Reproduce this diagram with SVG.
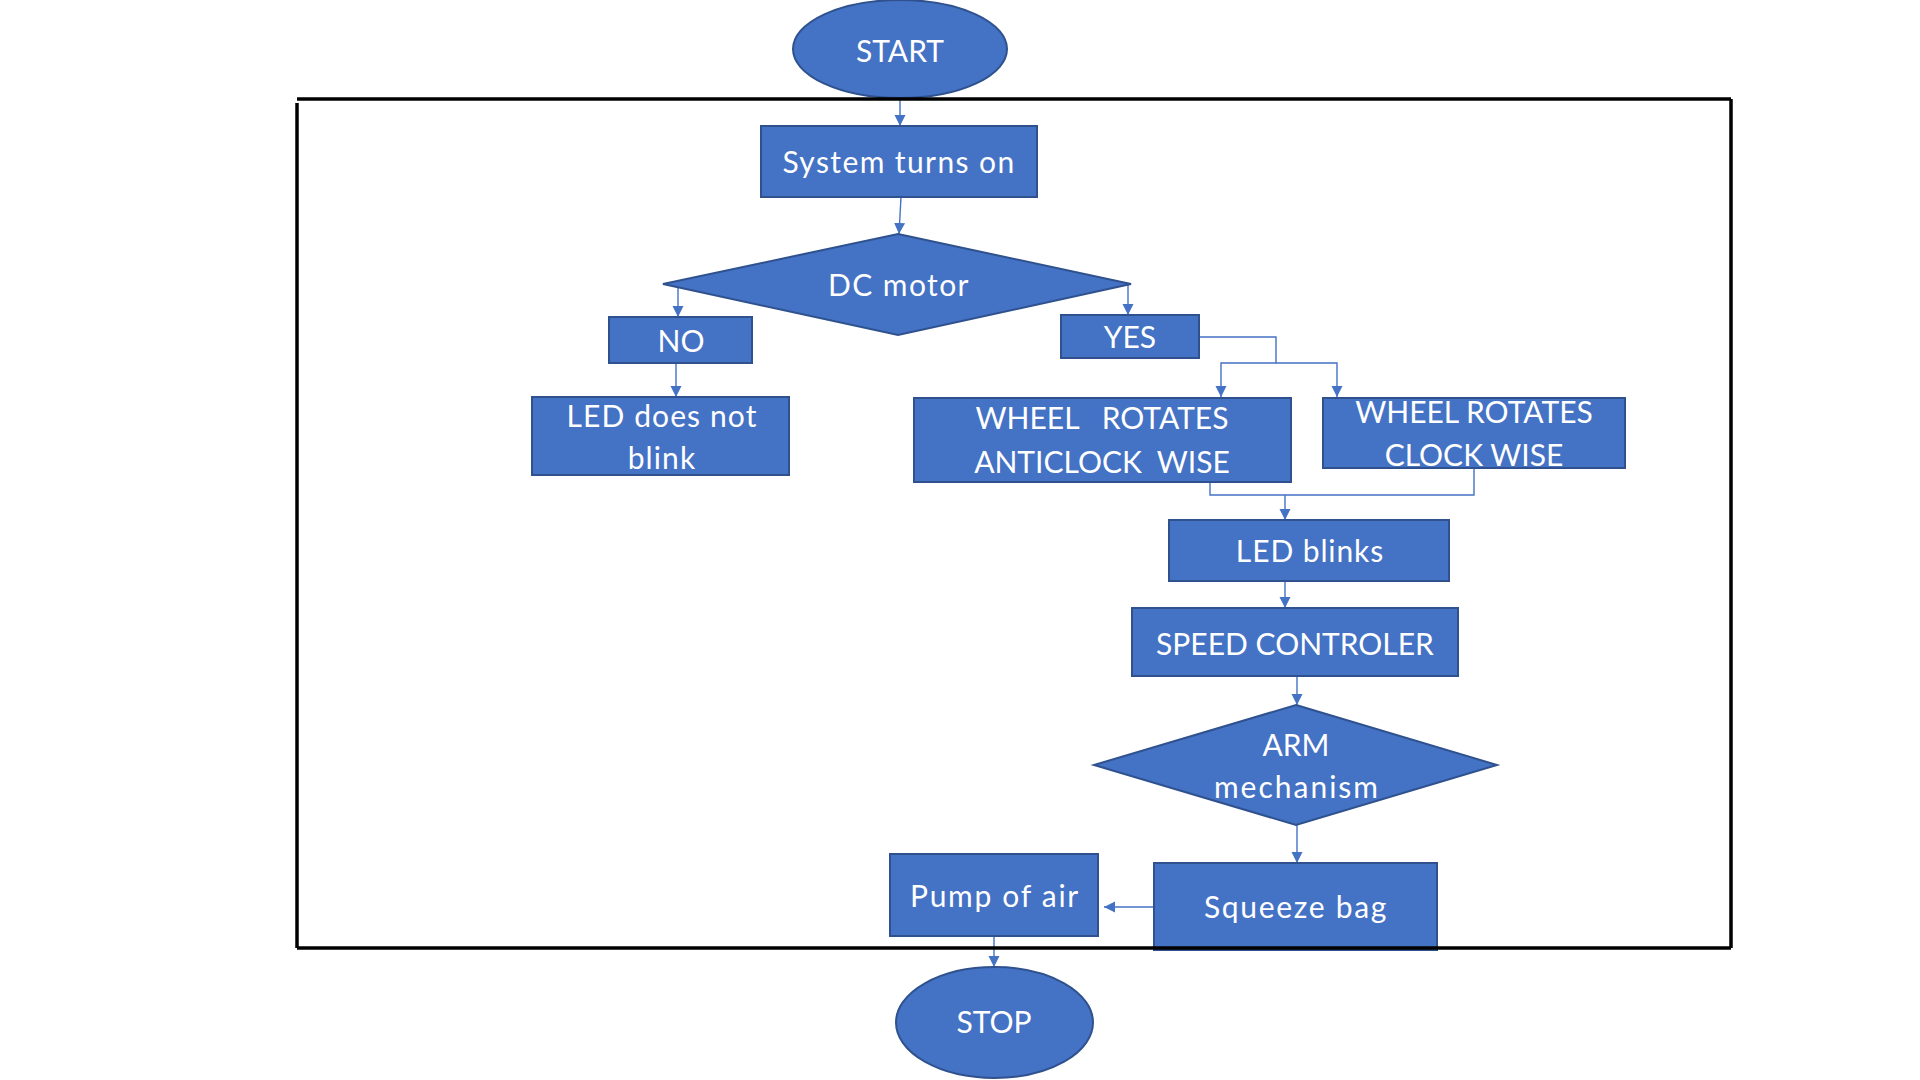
<svg xmlns="http://www.w3.org/2000/svg" width="1920" height="1080" viewBox="0 0 1920 1080">
<style>
.node{fill:#4472C4;stroke:#2F528F;stroke-width:2}
.lbl{fill:#FFFFFF;font-family:Lato,"Open Sans",sans-serif;font-size:30px;text-anchor:middle;white-space:pre}
.mix{letter-spacing:1.4px}
.conn{fill:none;stroke:#4472C4;stroke-width:1.4}
.frame{stroke:#000000;stroke-width:3.5;fill:none}
</style>
<defs>
<marker id="arr" markerUnits="userSpaceOnUse" markerWidth="12" markerHeight="12" viewBox="0 0 12 12" refX="11" refY="6" orient="auto">
<path d="M0,0.5 L11,6 L0,11.5 Z" fill="#4472C4"/>
</marker>
</defs>
<rect width="1920" height="1080" fill="#FFFFFF"/>
<g id="connectors">
<path class="conn" d="M900,98 V126" marker-end="url(#arr)"/>
<path class="conn" d="M901,197 L899,234" marker-end="url(#arr)"/>
<path class="conn" d="M678,284 V317" marker-end="url(#arr)"/>
<path class="conn" d="M676,363 V397" marker-end="url(#arr)"/>
<path class="conn" d="M1128,284 V315" marker-end="url(#arr)"/>
<path class="conn" d="M1199,337 H1276 V363 H1221 V397" marker-end="url(#arr)"/>
<path class="conn" d="M1276,363 H1337 V397" marker-end="url(#arr)"/>
<path class="conn" d="M1210,482 V495 H1474 V468"/>
<path class="conn" d="M1285,495 V520" marker-end="url(#arr)"/>
<path class="conn" d="M1285,581 V608" marker-end="url(#arr)"/>
<path class="conn" d="M1297,676 V705" marker-end="url(#arr)"/>
<path class="conn" d="M1297,825 V863" marker-end="url(#arr)"/>
<path class="conn" d="M1154,907 H1104" marker-end="url(#arr)"/>
<path class="conn" d="M994,936 V967" marker-end="url(#arr)"/>
</g>
<g id="start">
<ellipse class="node" cx="900" cy="49" rx="107" ry="49"/>
<text class="lbl" x="900" y="62">START</text>
</g>
<g id="system">
<rect class="node" x="761" y="126" width="276" height="71"/>
<text class="lbl mix" x="899" y="173">System turns on</text>
</g>
<g id="dcmotor">
<polygon class="node" points="898,234 1131,284 898,335 663,284"/>
<text class="lbl mix" x="899" y="296">DC motor</text>
</g>
<g id="no">
<rect class="node" x="609" y="317" width="143" height="46"/>
<text class="lbl" x="681" y="352">NO</text>
</g>
<g id="led-not">
<rect class="node" x="532" y="397" width="257" height="78"/>
<text class="lbl" x="662" y="427" style="letter-spacing:1.1px">LED does not</text>
<text class="lbl" x="662" y="469" style="letter-spacing:1.1px">blink</text>
</g>
<g id="yes">
<rect class="node" x="1061" y="315" width="138" height="43"/>
<text class="lbl" x="1130" y="348">YES</text>
</g>
<g id="anticlock">
<rect class="node" x="914" y="398" width="377" height="84"/>
<text class="lbl" x="1102" y="429">WHEEL   ROTATES</text>
<text class="lbl" x="1102" y="473">ANTICLOCK  WISE</text>
</g>
<g id="clockwise">
<rect class="node" x="1323" y="398" width="302" height="70"/>
<text class="lbl" x="1474" y="423">WHEEL ROTATES</text>
<text class="lbl" x="1474" y="466">CLOCK WISE</text>
</g>
<g id="led-blinks">
<rect class="node" x="1169" y="520" width="280" height="61"/>
<text class="lbl" x="1310" y="562" style="letter-spacing:0.9px">LED blinks</text>
</g>
<g id="speed">
<rect class="node" x="1132" y="608" width="326" height="68"/>
<text class="lbl" x="1295" y="655">SPEED CONTROLER</text>
</g>
<g id="arm">
<polygon class="node" points="1296,705 1497,765 1296,825 1094,765"/>
<text class="lbl" x="1296" y="756">ARM</text>
<text class="lbl" x="1297" y="798" style="letter-spacing:2px">mechanism</text>
</g>
<g id="squeeze">
<rect class="node" x="1154" y="863" width="283" height="87"/>
<text class="lbl" x="1296" y="918" style="letter-spacing:1.7px">Squeeze bag</text>
</g>
<g id="pump">
<rect class="node" x="890" y="854" width="208" height="82"/>
<text class="lbl" x="995" y="907" style="letter-spacing:1.7px">Pump of air</text>
</g>
<g id="stop">
<ellipse class="node" cx="994.5" cy="1022.5" rx="98.5" ry="55.5"/>
<text class="lbl" x="994" y="1033">STOP</text>
</g>
<g id="frame">
<line class="frame" x1="297" y1="99" x2="1731" y2="99"/>
<line class="frame" x1="297" y1="103" x2="297" y2="948"/>
<line class="frame" x1="1731" y1="99" x2="1731" y2="948"/>
<line class="frame" x1="297" y1="948" x2="1731" y2="948"/>
</g>
</svg>
